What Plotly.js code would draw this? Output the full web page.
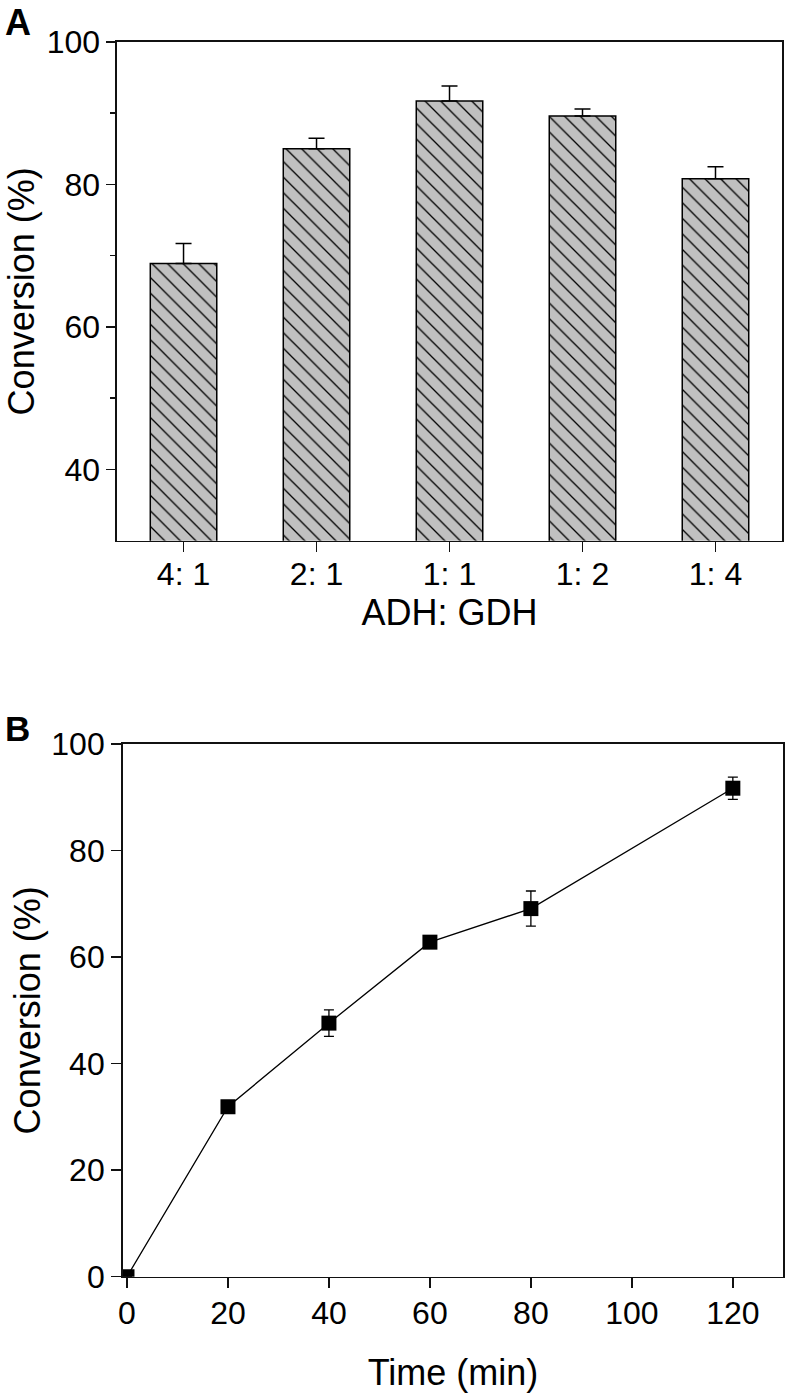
<!DOCTYPE html>
<html>
<head>
<meta charset="utf-8">
<script src="https://cdn.plot.ly/plotly-3.0.1.min.js"></script>
<style>
html,body{margin:0;padding:0;background:#fff;}
#chart{width:786px;height:1393px;}
</style>
</head>
<body>
<div id="chart"></div>
<script>
// Panel A data
const ratioLabels = ["4: 1", "2: 1", "1: 1", "1: 2", "1: 4"];
const ratioConversion = [68.9, 85.0, 91.7, 89.6, 80.8];
const ratioError = [2.8, 1.5, 2.1, 1.0, 1.7];

// Panel B data
const timeMin = [0, 20, 40, 60, 80, 120];
const timeConversion = [0, 31.9, 47.6, 62.8, 69.1, 91.7];
const timeError = [0, 1.0, 2.5, 0.6, 3.3, 2.1];

const FONT = "Liberation Sans, Arial, Helvetica, sans-serif";
const AX = "#111";

const barTrace = {
  type: "bar",
  x: ratioLabels,
  y: ratioConversion,
  width: 0.5,
  xaxis: "x",
  yaxis: "y",
  marker: {
    color: "#c0c0c0",
    line: {color: "#000", width: 1.5},
    pattern: {shape: "\\", bgcolor: "#c0c0c0", fgcolor: "#000", size: 11, solidity: 0.12}
  },
  error_y: {
    type: "data", symmetric: false, array: ratioError,
    arrayminus: ratioError.map(() => 0),
    color: "#000", thickness: 1.5, width: 8
  },
  showlegend: false,
  hoverinfo: "skip"
};

const lineTrace = {
  type: "scatter",
  mode: "lines+markers",
  x: timeMin,
  y: timeConversion,
  xaxis: "x2",
  yaxis: "y2",
  line: {color: "#000", width: 1.3},
  marker: {symbol: "square", size: 15, color: "#000"},
  error_y: {type: "data", array: timeError, color: "#000", thickness: 1.3, width: 5},
  cliponaxis: true,
  showlegend: false,
  hoverinfo: "skip"
};

const tickFont = {family: FONT, size: 32, color: "#000"};
const titleFont = {family: FONT, size: 36, color: "#000"};

const layout = {
  width: 786,
  height: 1393,
  margin: {l: 0, r: 0, t: 0, b: 0},
  paper_bgcolor: "#fff",
  plot_bgcolor: "#fff",
  font: {family: FONT, color: "#000"},
  xaxis: {
    domain: [0.1489, 0.9949],
    anchor: "y",
    type: "category",
    range: [-0.5, 4.5],
    showline: true, mirror: true, linecolor: AX, linewidth: 1.6,
    ticks: "outside", ticklen: 10, tickwidth: 1.5, tickcolor: AX,
    ticklabelstandoff: -6,
    showgrid: false, zeroline: false,
    tickfont: tickFont,
    title: {text: "ADH: GDH", font: titleFont, standoff: 4}
  },
  yaxis: {
    domain: [0.6118, 0.9699],
    anchor: "x",
    range: [30, 100],
    tickvals: [40, 60, 80, 100],
    showline: true, mirror: true, linecolor: AX, linewidth: 1.6,
    ticks: "outside", ticklen: 9, tickwidth: 1.5, tickcolor: AX,
    minor: {tickvals: [50, 70, 90], ticks: "outside", ticklen: 5, tickwidth: 1.5, tickcolor: AX, showgrid: false},
    showgrid: false, zeroline: false,
    tickfont: tickFont,
    title: {text: "Conversion (%)", font: titleFont}
  },
  xaxis2: {
    domain: [0.1561, 0.9966],
    anchor: "y2",
    range: [-0.85, 130],
    tickvals: [0, 20, 40, 60, 80, 100, 120],
    showline: true, mirror: true, linecolor: AX, linewidth: 1.6,
    ticks: "outside", ticklen: 10, tickwidth: 1.5, tickcolor: AX,
    ticklabelstandoff: -3,
    showgrid: false, zeroline: false,
    tickfont: tickFont,
    title: {text: "Time (min)", font: titleFont}
  },
  yaxis2: {
    domain: [0.0835, 0.4659],
    anchor: "x2",
    range: [0, 100],
    tickvals: [0, 20, 40, 60, 80, 100],
    showline: true, mirror: true, linecolor: AX, linewidth: 1.6,
    ticks: "outside", ticklen: 10, tickwidth: 1.5, tickcolor: AX,
    showgrid: false, zeroline: false,
    tickfont: tickFont,
    title: {text: "Conversion (%)", font: titleFont}
  },
  annotations: [
    {text: "<b>A</b>", xref: "paper", yref: "paper", x: 0.004, y: 1.0, xanchor: "left", yanchor: "top",
     showarrow: false, font: {family: FONT, size: 36, color: "#000"}},
    {text: "<b>B</b>", xref: "paper", yref: "paper", x: 0.004, y: 0.4925, xanchor: "left", yanchor: "top",
     showarrow: false, font: {family: FONT, size: 35, color: "#000"}}
  ]
};

Plotly.newPlot("chart", [barTrace, lineTrace], layout, {displayModeBar: false, staticPlot: true});
</script>
</body>
</html>
